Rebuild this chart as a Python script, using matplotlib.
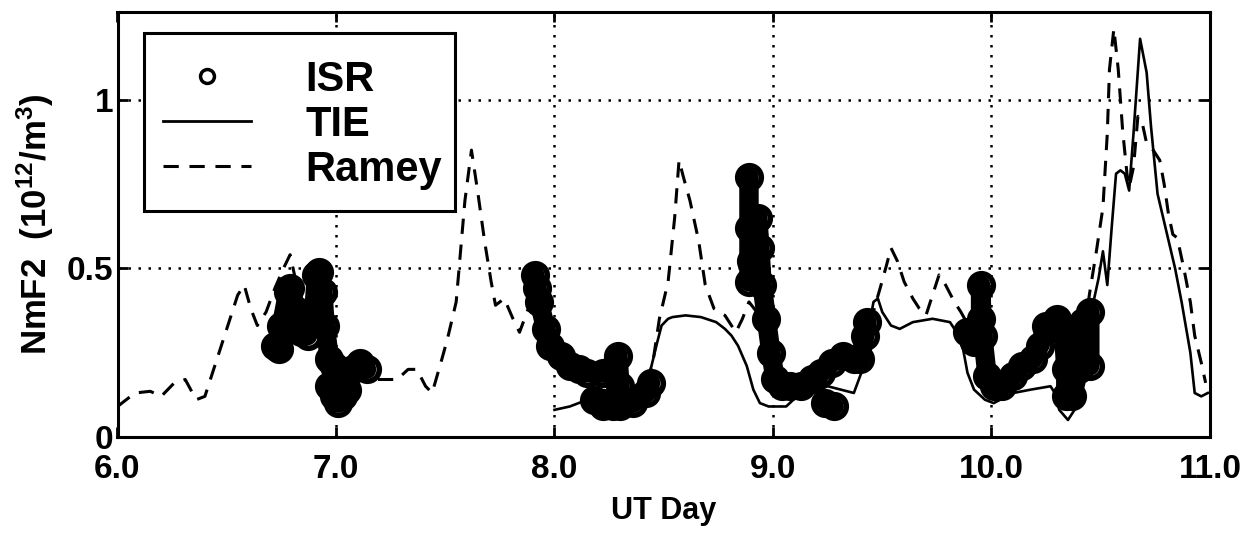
import matplotlib
matplotlib.use("Agg")
import matplotlib.pyplot as plt
from matplotlib.lines import Line2D
from matplotlib.patches import Rectangle
import numpy as np

FONT = ["Liberation Sans", "DejaVu Sans"]
plt.rcParams["font.family"] = FONT
plt.rcParams["font.weight"] = "bold"
plt.rcParams["axes.labelweight"] = "bold"
plt.rcParams["mathtext.fontset"] = "custom"
plt.rcParams["mathtext.rm"] = "Liberation Sans:bold"
plt.rcParams["mathtext.default"] = "rm"

# ISR observations, NaN splits the separate passes
isr_x = [6.72, 6.74, 6.75, 6.78, 6.79, 6.81, 6.84, 6.87, 6.90, 6.91, 6.92, 6.94, 6.95, 6.97, 6.99,
         6.97, 6.99, 7.01, 7.03, 7.05, 7.08, 7.11, 7.14, np.nan,
         7.91, 7.92, 7.93, 7.96, 7.98, 8.03, 8.07, 8.11, 8.15, 8.22, 8.27, 8.29, 8.30, 8.27,
         8.22, 8.18, 8.22, 8.30, 8.36, 8.42, 8.44, np.nan,
         8.89, 8.89, 8.89, 8.90, 8.91, 8.93, 8.94, 8.95, 8.97, 8.99, 9.01, 9.04, 9.08, 9.13,
         9.18, 9.22, 9.27, 9.32, 9.37, 9.40, 9.42, 9.43, np.nan,
         9.24, 9.28, np.nan,
         9.89, 9.92, 9.95, 9.95, 9.96, 9.98, 10.01, 10.05, 10.10, 10.14, 10.19, 10.22, 10.25,
         10.30, 10.33, 10.34, 10.34, 10.37, 10.40, 10.41, 10.42, 10.45, 10.45]
isr_y = [0.27, 0.26, 0.33, 0.43, 0.44, 0.38, 0.31, 0.30, 0.38, 0.48, 0.49, 0.43, 0.33, 0.23, 0.21,
         0.15, 0.12, 0.10, 0.12, 0.14, 0.20, 0.22, 0.20, np.nan,
         0.48, 0.44, 0.40, 0.32, 0.27, 0.24, 0.21, 0.20, 0.19, 0.19, 0.20, 0.24, 0.15, 0.09,
         0.10, 0.11, 0.09, 0.09, 0.10, 0.13, 0.16, np.nan,
         0.77, 0.62, 0.46, 0.52, 0.60, 0.65, 0.56, 0.45, 0.35, 0.25, 0.17, 0.15, 0.15, 0.15,
         0.17, 0.19, 0.22, 0.24, 0.23, 0.23, 0.30, 0.34, np.nan,
         0.10, 0.09, np.nan,
         0.31, 0.28, 0.35, 0.45, 0.30, 0.18, 0.15, 0.15, 0.18, 0.21, 0.23, 0.27, 0.33,
         0.35, 0.31, 0.20, 0.12, 0.12, 0.20, 0.28, 0.34, 0.37, 0.21]

# TIE model
tie_x = [8.00, 8.07, 8.15, 8.25, 8.35, 8.42, 8.44, 8.47, 8.49, 8.52, 8.54, 8.60, 8.67, 8.74, 8.78,
         8.81, 8.84, 8.88, 8.91, 8.94, 8.98, 9.02, 9.06, 9.11, 9.18, 9.25, 9.31, 9.37, 9.41, 9.44,
         9.46, 9.48, 9.50, 9.54, 9.58, 9.64, 9.73, 9.81, 9.84, 9.87, 9.89, 9.92, 9.97, 10.01, 10.10,
         10.18, 10.27, 10.29, 10.31, 10.35, 10.38, 10.41, 10.44, 10.46, 10.49, 10.51, 10.53, 10.55,
         10.57, 10.59, 10.61, 10.63, 10.65, 10.68, 10.71, 10.73, 10.76, 10.80, 10.84, 10.87, 10.91,
         10.93, 10.96, 10.99]
tie_y = [0.08, 0.09, 0.11, 0.12, 0.12, 0.15, 0.20, 0.28, 0.33, 0.35, 0.355, 0.36, 0.355, 0.34, 0.32,
         0.30, 0.27, 0.21, 0.14, 0.10, 0.09, 0.09, 0.09, 0.12, 0.13, 0.15, 0.14, 0.13, 0.20, 0.33,
         0.40, 0.41, 0.37, 0.33, 0.32, 0.34, 0.35, 0.34, 0.31, 0.26, 0.19, 0.14, 0.11, 0.10, 0.13,
         0.14, 0.15, 0.13, 0.08, 0.05, 0.08, 0.17, 0.26, 0.38, 0.47, 0.55, 0.45, 0.62,
         0.78, 0.79, 0.78, 0.73, 0.90, 1.18, 1.08, 0.92, 0.72, 0.61, 0.50, 0.40, 0.25,
         0.13, 0.12, 0.13]

# Ramey model
ramey_x = [6.00, 6.02, 6.08, 6.15, 6.20, 6.26, 6.31, 6.36, 6.40, 6.45, 6.50, 6.55, 6.58, 6.61, 6.64,
           6.68, 6.72, 6.76, 6.79, 6.82, 6.86, 6.90, 6.95, 7.00, 7.08, 7.15, 7.22, 7.28, 7.33, 7.37,
           7.41, 7.44, 7.48, 7.51, 7.55, 7.57, 7.59, 7.62, 7.65, 7.68, 7.71, 7.73, 7.77, 7.81, 7.84,
           7.88, 7.92, 7.97, 8.05, 8.15, 8.25, 8.35, 8.42, 8.45, 8.48, 8.52, 8.55, 8.57, 8.59, 8.62,
           8.66, 8.69, 8.73, 8.78, 8.83, 8.86, 8.89, 8.95, 9.00, 9.05, 9.15, 9.25, 9.33, 9.40, 9.45,
           9.49, 9.52, 9.54, 9.57, 9.60, 9.64, 9.67, 9.70, 9.73, 9.76, 9.79, 9.83, 9.86, 9.92, 10.00,
           10.10, 10.20, 10.30, 10.36, 10.42, 10.45, 10.48, 10.51, 10.53, 10.54, 10.56, 10.58, 10.60,
           10.62, 10.63, 10.65, 10.67, 10.69, 10.71, 10.74, 10.77, 10.79, 10.81, 10.83, 10.85, 10.88,
           10.91, 10.93, 10.96, 10.98]
ramey_y = [0.09, 0.10, 0.13, 0.135, 0.12, 0.16, 0.17, 0.11, 0.12, 0.22, 0.32, 0.42, 0.45, 0.38, 0.33,
           0.37, 0.44, 0.50, 0.54, 0.45, 0.38, 0.32, 0.25, 0.20, 0.18, 0.17, 0.17, 0.17, 0.20, 0.20,
           0.15, 0.13, 0.22, 0.29, 0.40, 0.55, 0.70, 0.85, 0.72, 0.58, 0.46, 0.39, 0.41, 0.35, 0.31,
           0.38, 0.42, 0.30, 0.22, 0.18, 0.16, 0.14, 0.16, 0.22, 0.35, 0.46, 0.65, 0.82, 0.77, 0.70,
           0.58, 0.45, 0.38, 0.36, 0.31, 0.35, 0.40, 0.35, 0.22, 0.16, 0.16, 0.20, 0.23, 0.25, 0.35,
           0.44, 0.51, 0.56, 0.52, 0.46, 0.41, 0.38, 0.36, 0.42, 0.48, 0.45, 0.40, 0.37, 0.30, 0.18,
           0.18, 0.22, 0.30, 0.25, 0.30, 0.43, 0.55, 0.68, 0.90, 1.09, 1.21, 1.09, 0.91,
           0.78, 0.74, 0.80, 0.95, 0.93, 0.87, 0.85, 0.82, 0.75, 0.66, 0.60, 0.59, 0.50,
           0.40, 0.30, 0.22, 0.16]

xticks = [6.0, 7.0, 8.0, 9.0, 10.0, 11.0]
xtick_labels = ["6.0", "7.0", "8.0", "9.0", "10.0", "11.0"]
yticks = [0, 0.5, 1]
ytick_labels = ["0", "0.5", "1"]

DASH = (0, (5, 3.5))

fig = plt.figure(figsize=(12.5, 5.36), dpi=100)
ax = fig.add_axes([0.094, 0.185, 0.874, 0.793])

ax.plot(ramey_x, ramey_y, color="k", lw=2.2, ls=DASH)
ax.plot(tie_x, tie_y, color="k", lw=1.9)
ax.plot(isr_x, isr_y, color="k", lw=14, solid_capstyle="round", solid_joinstyle="round")
ax.plot(isr_x, isr_y, "o", ms=17, mfc="none", mec="k", mew=4)

ax.set_xlim(6, 11)
ax.set_ylim(0, 1.26)
ax.set_xticks(xticks)
ax.set_xticklabels(xtick_labels)
ax.set_yticks(yticks)
ax.set_yticklabels(ytick_labels)
ax.tick_params(direction="in", length=7, width=2, top=True, right=True, labelsize=24)
ax.tick_params(axis="x", pad=12)
ax.tick_params(axis="y", pad=3)
ax.grid(True, color="k", ls=(0, (1, 3)), lw=1.8)
for s in ax.spines.values():
    s.set_linewidth(2.2)

ax.set_xlabel("UT Day", fontsize=22, labelpad=8)
ax.set_ylabel(r"NmF2  (10$^{12}$/m$^{3}$)", fontsize=25)
ax.yaxis.set_label_coords(-0.056, 0.5)

# legend: white box with black frame, entries placed inside it
box = Rectangle((0.024, 0.532), 0.285, 0.419, transform=ax.transAxes,
                facecolor="white", edgecolor="k", lw=2.2, zorder=4)
ax.add_patch(box)
handles = [
    Line2D([], [], marker="o", ls="none", mfc="none", mec="k", ms=10, mew=2.5),
    Line2D([], [], color="k", lw=2),
    Line2D([], [], color="k", lw=2.2, ls=DASH),
]
leg = ax.legend(handles, ["ISR", "TIE", "Ramey"], loc="center left",
                bbox_to_anchor=(0.042, 0.734), fontsize=30, frameon=False,
                handlelength=2.1, handletextpad=1.3, labelspacing=0.12, borderpad=0,
                borderaxespad=0)
leg.set_zorder(5)

fig.savefig("out.png", dpi=100)
